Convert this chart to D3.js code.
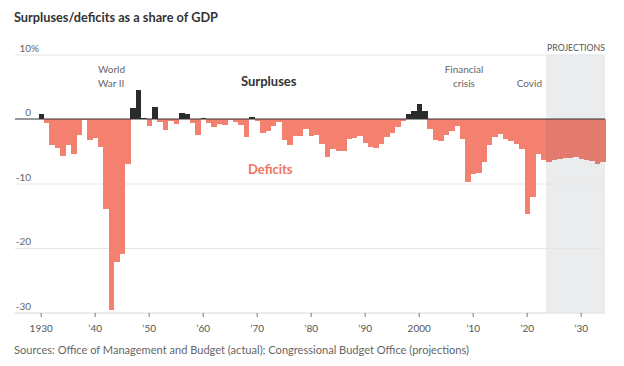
<!DOCTYPE html>
<html><head><meta charset="utf-8">
<script src="https://cdn.jsdelivr.net/npm/d3@7"></script>
<style>
html,body{margin:0;padding:0;background:#fff;}
svg{display:block;font-family:Lato,"Open Sans",sans-serif;}
</style></head>
<body><svg id="c" width="624" height="366"></svg>
<script>
// Actual balances (% of GDP), fiscal years 1930–2023, OMB
const actualYears = d3.range(1930, 2024);
const actualValues = [
  0.8,-0.6,-4.0,-4.5,-5.8,-4.0,-5.4,-2.5,-0.1,-3.2,
  -3.0,-4.3,-13.9,-29.6,-22.2,-21.0,-7.0,1.7,4.5,0.2,
  -1.1,1.9,-0.4,-1.7,-0.3,-0.7,0.9,0.7,-0.6,-2.5,
  0.1,-0.6,-1.2,-0.8,-0.9,-0.2,-0.5,-1.0,-2.8,0.3,
  -0.3,-2.1,-1.9,-1.1,-0.4,-3.3,-4.1,-2.6,-2.6,-1.6,
  -2.6,-2.5,-3.9,-5.9,-4.7,-5.0,-4.9,-3.1,-3.0,-2.7,
  -3.7,-4.4,-4.5,-3.8,-2.8,-2.2,-1.3,-0.3,0.8,1.3,
  2.3,1.2,-1.5,-3.3,-3.4,-2.5,-1.8,-1.1,-3.1,-9.8,
  -8.6,-8.4,-6.7,-4.0,-2.8,-2.4,-3.1,-3.4,-3.8,-4.6,
  -14.7,-12.1,-5.4,-6.3
];
// CBO projections 2024–2034
const projYears = d3.range(2024, 2035);
const projValues = [-6.7,-6.4,-6.2,-6.0,-6.1,-5.9,-6.2,-6.4,-6.5,-6.9,-6.7];

const yTicks = [10, 0, -10, -20, -30];
const xTickYears = [1930,1940,1950,1960,1970,1980,1990,2000,2010,2020,2030];
const xTickLabels = ["1930","’40","’50","’60","’70","’80","’90","2000","’10","’20","’30"];

const svg = d3.select("#c");
const plotL = 15, plotR = 605;
const x = d3.scaleLinear().domain([1930, 2030]).range([41.2, 581.2]);
const y = d3.scaleLinear().domain([-30, 10]).range([312.5, 54.5]);

// title
svg.append("text").attr("x",14).attr("y",22)
  .attr("font-size",13.5).attr("font-weight",700).attr("fill","#333")
  .attr("textLength",204).attr("lengthAdjust","spacingAndGlyphs")
  .text("Surpluses/deficits as a share of GDP");

// projection shading
svg.append("rect")
  .attr("x", x(2023.5)).attr("width", plotR - x(2023.5))
  .attr("y", y(10)).attr("height", y(-30) - y(10))
  .attr("fill","#ebecee");
svg.append("text").attr("x", plotR).attr("y", 51)
  .attr("text-anchor","end").attr("font-size",10).attr("fill","#555")
  .attr("textLength",58).attr("lengthAdjust","spacingAndGlyphs")
  .text("PROJECTIONS");

// gridlines
svg.append("g").selectAll("line").data(yTicks.filter(d=>d!==0)).join("line")
  .attr("x1",plotL).attr("x2",plotR)
  .attr("y1",d=>y(d)+0.5).attr("y2",d=>y(d)+0.5)
  .attr("stroke",d=>d===-30?"#d8d8d8":"#e6e6e6").attr("stroke-width",1);

// y labels
const yl = svg.append("g").attr("font-size",10).attr("fill","#666");
yTicks.forEach(t=>{
  yl.append("text").attr("x",31).attr("y",y(t)-3).attr("text-anchor","end").text(t);
  if (t===10) yl.append("text").attr("x",31).attr("y",y(t)-3).text("%");
});

// bars
const actual = actualYears.map((yr,i)=>({yr, v: actualValues[i], proj:false}));
const proj = projYears.map((yr,i)=>({yr, v: projValues[i], proj:true}));
const all = actual.concat(proj);
svg.append("g").selectAll("rect").data(all).join("rect")
  .attr("x", d=>x(d.yr-0.5))
  .attr("width", d=>x(d.yr+0.5)-x(d.yr-0.5)+0.3)
  .attr("y", d=>y(Math.max(0,d.v)))
  .attr("height", d=>Math.abs(y(d.v)-y(0)))
  .attr("fill", d=> d.v>=0 ? "#2b2b2b" : (d.proj ? "#e27b6d" : "#f4806f"))
  .attr("shape-rendering","crispEdges");

// zero line
svg.append("line").attr("x1",plotL).attr("x2",plotR)
  .attr("y1",y(0)).attr("y2",y(0)).attr("stroke","#333").attr("stroke-width",1);

// x axis
const xa = svg.append("g");
xa.selectAll("line").data(xTickYears).join("line")
  .attr("x1",d=>x(d)).attr("x2",d=>x(d)).attr("y1",313).attr("y2",317)
  .attr("stroke","#777");
xa.selectAll("text").data(xTickYears).join("text")
  .attr("x",d=>x(d)).attr("y",332).attr("text-anchor","middle")
  .attr("font-size",10).attr("fill","#555")
  .text((d,i)=>xTickLabels[i]);

// annotations
const ann = svg.append("g").attr("font-size",10).attr("fill","#666");
ann.append("text").attr("x",98).attr("y",73).text("World");
ann.append("text").attr("x",98).attr("y",87).text("War II");
ann.append("text").attr("x",464).attr("y",73).attr("text-anchor","middle").text("Financial");
ann.append("text").attr("x",464).attr("y",87).attr("text-anchor","middle").text("crisis");
ann.append("text").attr("x",542).attr("y",87).attr("text-anchor","end").text("Covid");

svg.append("text").attr("x",241).attr("y",86).attr("font-size",13).attr("font-weight",700)
  .attr("fill","#333").text("Surpluses");
svg.append("text").attr("x",248).attr("y",174).attr("font-size",13).attr("font-weight",700)
  .attr("fill","#f0735f").text("Deficits");

// source
svg.append("text").attr("x",14).attr("y",354).attr("font-size",10.5).attr("fill","#666")
  .attr("textLength",455).attr("lengthAdjust","spacingAndGlyphs")
  .text("Sources: Office of Management and Budget (actual); Congressional Budget Office (projections)");
</script></body></html>
